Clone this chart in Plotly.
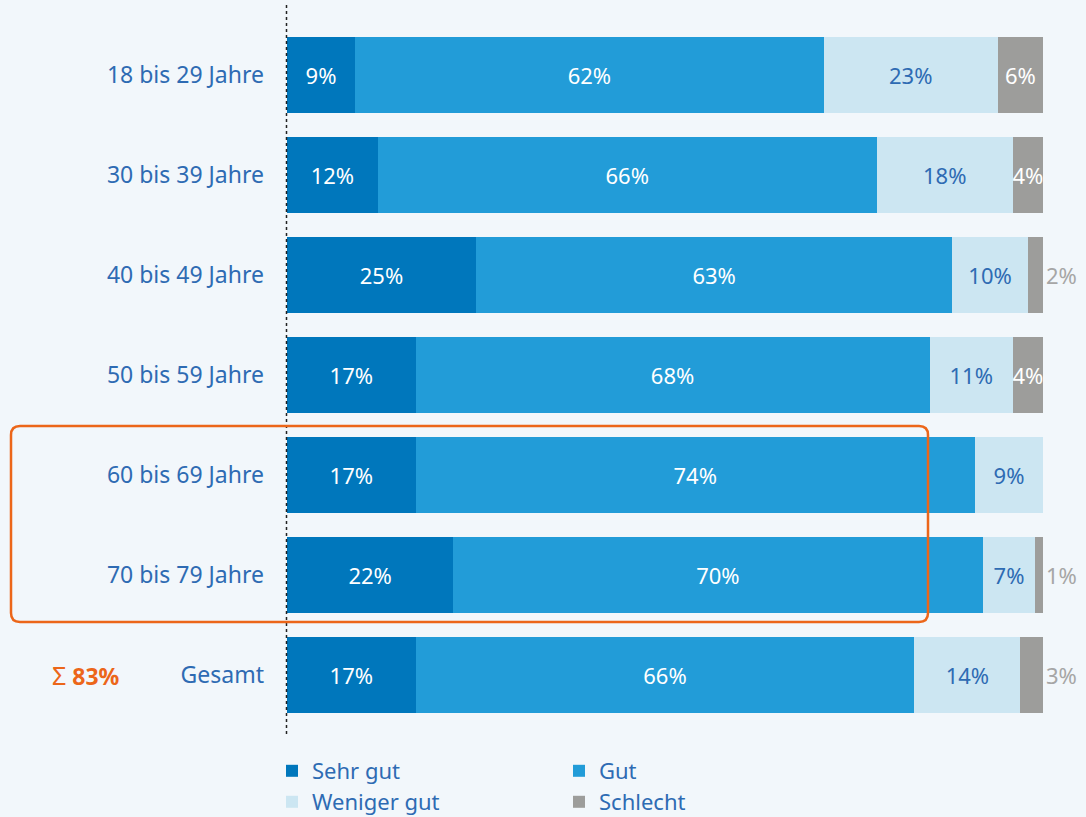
import plotly.graph_objects as go

categories = ["18 bis 29 Jahre", "30 bis 39 Jahre", "40 bis 49 Jahre", "50 bis 59 Jahre",
              "60 bis 69 Jahre", "70 bis 79 Jahre", "Gesamt"]
sehr_gut = [9, 12, 25, 17, 17, 22, 17]
gut = [62, 66, 63, 68, 74, 70, 66]
weniger_gut = [23, 18, 10, 11, 9, 7, 14]
schlecht = [6, 4, 2, 4, 0, 1, 3]
summe_value = "83%"

BG = "#f2f7fb"
LABEL = "#2e6bb3"
FONT = "Noto Sans"
W, H = 1086, 817
ML, MR, MT, MB = 287, 43, 25, 92
PW, PH = W - ML - MR, H - MT - MB


def px2x(px):
    return (px - ML) / PW


def px2y(py):
    return 1 - (py - MT) / PH


fig = go.Figure()


def add(name, vals, color, legend, inside_color="white", outside_color="#a6a6a6", positions=None):
    fig.add_trace(go.Bar(
        y=categories, x=vals, name=name, orientation="h",
        marker=dict(color=color, line=dict(width=0)),
        text=[f"{v}%" if v > 0 else "" for v in vals],
        textposition=positions if positions else "inside",
        insidetextanchor="middle",
        constraintext="none",
        textangle=0,
        insidetextfont=dict(color=inside_color, size=22, family=FONT),
        outsidetextfont=dict(color=outside_color, size=22, family=FONT),
        cliponaxis=False,
        hoverinfo="skip",
        legend=legend,
    ))


add("Sehr gut", sehr_gut, "#0077bc", "legend")
add("Gut", gut, "#229cd8", "legend")
add("Weniger gut", weniger_gut, "#cce6f2", "legend2", inside_color=LABEL)
pos = ["inside" if v >= 4 else "outside" for v in schlecht]
add("Schlecht", schlecht, "#9d9d9b", "legend2", positions=pos)

# dotted axis line
fig.add_shape(type="line", xref="paper", yref="paper",
              x0=px2x(286.5), x1=px2x(286.5), y0=px2y(5), y1=px2y(735),
              line=dict(color="#222222", width=1.5, dash="dot"), layer="above")

# rounded orange frame around 60-79
x0, x1, y0, y1, r = 11, 928, 426, 622, 9
pts = (f"M {px2x(x0 + r)},{px2y(y0)} L {px2x(x1 - r)},{px2y(y0)} "
       f"Q {px2x(x1)},{px2y(y0)} {px2x(x1)},{px2y(y0 + r)} "
       f"L {px2x(x1)},{px2y(y1 - r)} Q {px2x(x1)},{px2y(y1)} {px2x(x1 - r)},{px2y(y1)} "
       f"L {px2x(x0 + r)},{px2y(y1)} Q {px2x(x0)},{px2y(y1)} {px2x(x0)},{px2y(y1 - r)} "
       f"L {px2x(x0)},{px2y(y0 + r)} Q {px2x(x0)},{px2y(y0)} {px2x(x0 + r)},{px2y(y0)} Z")
fig.add_shape(type="path", xref="paper", yref="paper", path=pts,
              line=dict(color="#ec6619", width=2.5), layer="above")

fig.add_annotation(x=px2x(86), xref="paper", y="Gesamt", yref="y",
                   text=f"<span style='font-size:25px'>\u03a3</span> <b>{summe_value}</b>",
                   showarrow=False, font=dict(color="#ec6619", size=23, family=FONT),
                   xanchor="center", yanchor="middle")

leg_common = dict(orientation="h", xanchor="left", yanchor="top",
                  entrywidth=242, entrywidthmode="pixels", traceorder="normal",
                  font=dict(size=22, color=LABEL, family=FONT), bgcolor="rgba(0,0,0,0)",
                  itemclick=False, itemdoubleclick=False)

fig.update_layout(
    width=W, height=H,
    barmode="stack", bargap=0.24,
    paper_bgcolor=BG, plot_bgcolor=BG,
    margin=dict(l=ML, r=MR, t=MT, b=MB, autoexpand=False),
    font=dict(family=FONT, color=LABEL, size=22),
    xaxis=dict(range=[0, 100], visible=False, fixedrange=True),
    yaxis=dict(autorange="reversed", showgrid=False, zeroline=False, showline=False,
               ticks="", ticklabelstandoff=22, tickfont=dict(size=23, color=LABEL, family=FONT)),
    legend=dict(x=px2x(272), y=px2y(750), **leg_common),
    legend2=dict(x=px2x(272), y=px2y(781), **leg_common),
    showlegend=True,
)

fig.write_html("out.html")
